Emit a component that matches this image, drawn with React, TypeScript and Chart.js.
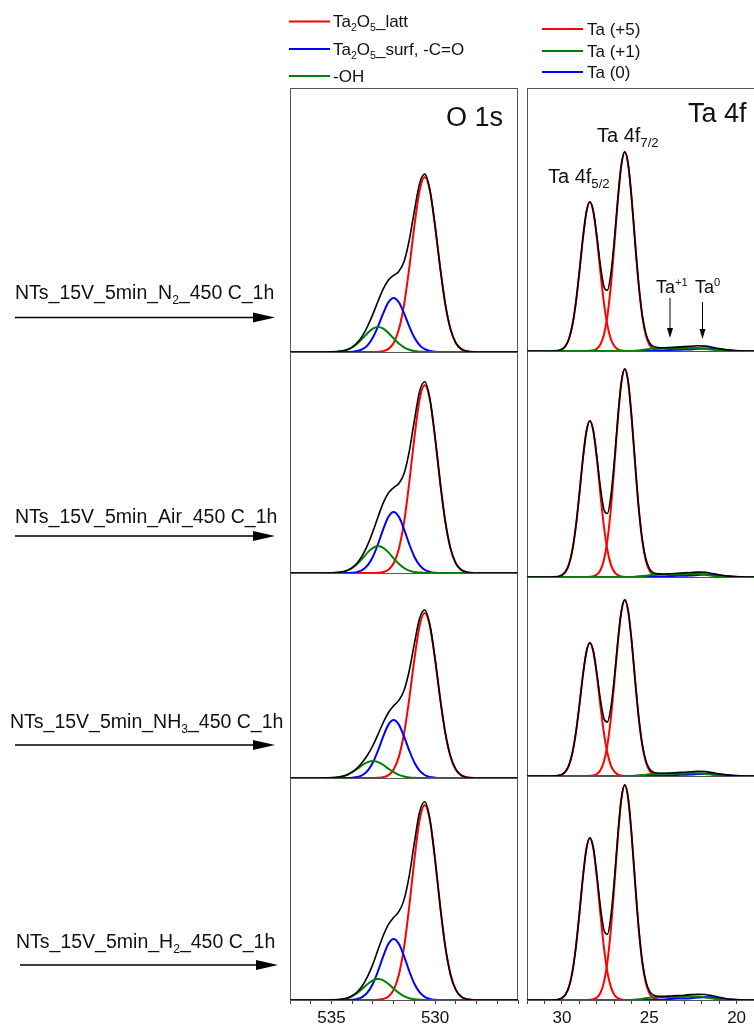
import React, { useEffect, useRef } from 'react';
import { Chart, registerables } from 'chart.js';

Chart.register(...registerables);

const FONT = '"Liberation Sans", Arial, Helvetica, sans-serif';

// ---------------- O 1s (binding energy, eV) ----------------
const O1S_E = [537, 535.5, 535.25, 535, 534.75, 534.5, 534.25, 534, 533.75, 533.5, 533.25, 533, 532.75, 532.5, 532.25, 532, 531.75, 531.5, 531.25, 531, 530.75, 530.5, 530.25, 530, 529.75, 529.5, 529.25, 529, 528.75, 528.5, 528.25, 528, 526];

const O1S_N2_ENV = [0, 0, 0, 0.1, 0.3, 0.9, 2.2, 4.9, 9.5, 16.4, 26.0, 37.9, 51.0, 63.1, 71.9, 76.6, 80.6, 90.3, 111.5, 141.2, 168.4, 177.9, 162.2, 126.1, 83.5, 46.9, 22.4, 9.0, 3.1, 0.9, 0.2, 0, 0];
const O1S_N2_LATT = [0, 0, 0, 0, 0, 0, 0, 0, 0, 0, 0, 0, 0.2, 0.9, 3.1, 9.0, 22.4, 46.9, 83.5, 125.8, 161.2, 175, 161.2, 125.8, 83.5, 46.9, 22.4, 9.0, 3.1, 0.9, 0.2, 0, 0];
const O1S_N2_SURF = [0, 0, 0, 0, 0, 0, 0, 0.3, 1.0, 2.8, 6.9, 14.5, 25.8, 38.8, 49.7, 54, 49.7, 38.8, 25.8, 14.5, 6.9, 2.8, 1.0, 0.3, 0, 0, 0, 0, 0, 0, 0, 0, 0];
const O1S_N2_OH = [0, 0, 0, 0.1, 0.3, 0.9, 2.2, 4.6, 8.5, 13.6, 19.1, 23.4, 25, 23.4, 19.1, 13.6, 8.5, 4.6, 2.2, 0.9, 0.3, 0.1, 0, 0, 0, 0, 0, 0, 0, 0, 0, 0, 0];

const O1S_AIR_ENV = [0, 0, 0, 0.1, 0.4, 1.0, 2.4, 5.3, 10.3, 17.8, 28.4, 41.5, 56.3, 70.1, 80.1, 85.4, 89.5, 99.3, 121.2, 152.5, 181.3, 191.2, 174.2, 135.5, 89.7, 50.4, 24.1, 9.7, 3.3, 1.0, 0.2, 0, 0];
const O1S_AIR_LATT = [0, 0, 0, 0, 0, 0, 0, 0, 0, 0, 0, 0, 0.2, 1.0, 3.3, 9.7, 24.1, 50.4, 89.7, 135.2, 173.1, 188, 173.1, 135.2, 89.7, 50.4, 24.1, 9.7, 3.3, 1.0, 0.2, 0, 0];
const O1S_AIR_SURF = [0, 0, 0, 0, 0, 0, 0, 0.3, 1.1, 3.1, 7.8, 16.3, 29.1, 43.9, 56.2, 61, 56.2, 43.9, 29.1, 16.3, 7.8, 3.1, 1.1, 0.3, 0, 0, 0, 0, 0, 0, 0, 0, 0];
const O1S_AIR_OH = [0, 0, 0, 0.1, 0.4, 1.0, 2.4, 5.0, 9.2, 14.7, 20.6, 25.2, 27, 25.2, 20.6, 14.7, 9.2, 5.0, 2.4, 1.0, 0.4, 0.1, 0, 0, 0, 0, 0, 0, 0, 0, 0, 0, 0];

const O1S_NH3_ENV = [0, 0, 0.1, 0.2, 0.6, 1.5, 3.1, 6.1, 10.2, 16.0, 23.3, 32.5, 43.8, 55.5, 65.5, 72.3, 77.6, 87.4, 107.0, 134.3, 159.5, 168.0, 153.0, 118.9, 78.7, 44.2, 21.1, 8.5, 2.9, 0.8, 0.2, 0, 0];
const O1S_NH3_LATT = [0, 0, 0, 0, 0, 0, 0, 0, 0, 0, 0, 0, 0.2, 0.8, 2.9, 8.5, 21.1, 44.2, 78.7, 118.6, 152.0, 165, 152.0, 118.6, 78.7, 44.2, 21.1, 8.5, 2.9, 0.8, 0.2, 0, 0];
const O1S_NH3_SURF = [0, 0, 0, 0, 0, 0, 0, 0.3, 1.0, 3.0, 7.4, 15.5, 27.7, 41.7, 53.4, 58, 53.4, 41.7, 27.7, 15.5, 7.4, 3.0, 1.0, 0.3, 0, 0, 0, 0, 0, 0, 0, 0, 0];
const O1S_NH3_OH = [0, 0, 0.1, 0.2, 0.6, 1.5, 3.1, 5.8, 9.2, 13.0, 15.9, 17, 15.9, 13.0, 9.2, 5.8, 3.1, 1.5, 0.6, 0.2, 0.1, 0, 0, 0, 0, 0, 0, 0, 0, 0, 0, 0, 0];

const O1S_H2_ENV = [0, 0, 0, 0.1, 0.3, 0.8, 1.8, 4.2, 8.2, 14.5, 23.8, 35.9, 50.4, 64.5, 75.7, 82.5, 88.3, 100.1, 123.9, 157.3, 187.7, 198.2, 180.7, 140.5, 93.0, 52.3, 25.0, 10.1, 3.5, 1.0, 0.3, 0, 0];
const O1S_H2_LATT = [0, 0, 0, 0, 0, 0, 0, 0, 0, 0, 0, 0, 0.3, 1.0, 3.5, 10.1, 25.0, 52.3, 93.0, 140.2, 179.6, 195, 179.6, 140.2, 93.0, 52.3, 25.0, 10.1, 3.5, 1.0, 0.3, 0, 0];
const O1S_H2_SURF = [0, 0, 0, 0, 0, 0, 0, 0.3, 1.1, 3.1, 7.8, 16.3, 29.1, 43.9, 56.2, 61, 56.2, 43.9, 29.1, 16.3, 7.8, 3.1, 1.1, 0.3, 0, 0, 0, 0, 0, 0, 0, 0, 0];
const O1S_H2_OH = [0, 0, 0, 0.1, 0.3, 0.8, 1.8, 3.9, 7.1, 11.4, 16.0, 19.6, 21, 19.6, 16.0, 11.4, 7.1, 3.9, 1.8, 0.8, 0.3, 0.1, 0, 0, 0, 0, 0, 0, 0, 0, 0, 0, 0];

// ---------------- Ta 4f (binding energy, eV) ----------------
const TA_E = [32, 30.6, 30.4, 30.2, 30.0, 29.8, 29.6, 29.4, 29.2, 29.0, 28.8, 28.6, 28.4, 28.2, 28.0, 27.8, 27.6, 27.4, 27.2, 27.0, 26.8, 26.6, 26.4, 26.2, 26.0, 25.8, 25.6, 25.4, 25.2, 25.0, 24.8, 24.6, 24.4, 24.2, 23.8, 23.4, 23.0, 22.6, 22.2, 21.8, 21.4, 21.0, 20.6, 20.2, 19.8, 19.4, 17];
const TA_E_52 = [30.6, 30.4, 30.2, 30.0, 29.8, 29.6, 29.4, 29.2, 29.0, 28.8, 28.6, 28.4, 28.2, 28.0, 27.8, 27.6, 27.4, 27.2, 27.0, 26.8, 26.6, 26.4, 26.2];
const TA_E_72 = [28.6, 28.4, 28.2, 28.0, 27.8, 27.6, 27.4, 27.2, 27.0, 26.8, 26.6, 26.4, 26.2, 26.0, 25.8, 25.6, 25.4, 25.2, 25.0, 24.8, 24.6, 24.4, 24.2];
const TA_E_MIN = [32, 26.2, 25.8, 25.4, 25.0, 24.6, 24.2, 23.8, 23.4, 23.0, 22.6, 22.2, 21.8, 21.4, 21.0, 20.6, 20.2, 19.8, 19.4, 17];

const TA_N2_ENV = [0, 0, 0.1, 0.5, 1.7, 4.9, 12.0, 26.0, 48.7, 79.4, 112.7, 138.9, 149.2, 139.6, 115.0, 85.9, 64.8, 60.7, 77.1, 111.0, 152.2, 186.1, 199.1, 185.6, 150.7, 106.4, 65.8, 35.7, 17.7, 8.6, 4.8, 3.6, 3.3, 3.2, 3.5, 3.9, 4.4, 4.8, 5.2, 4.9, 3.8, 2.4, 1.2, 0.4, 0.1, 0, 0];
const TA_N2_52 = [0, 0.1, 0.5, 1.7, 4.9, 12.0, 26.0, 48.7, 79.4, 112.7, 138.9, 149, 138.9, 112.7, 79.4, 48.7, 26.0, 12.0, 4.9, 1.7, 0.5, 0.1, 0];
const TA_N2_72 = [0, 0.2, 0.7, 2.3, 6.5, 16.1, 34.7, 65.1, 106.1, 150.5, 185.6, 199, 185.6, 150.5, 106.1, 65.1, 34.7, 16.1, 6.5, 2.3, 0.7, 0.2, 0];
const TA_N2_P1 = [0, 0, 0.3, 1.0, 2.0, 2.6, 2.6, 2.5, 2.6, 3.0, 3.2, 3.0, 2.3, 1.3, 0.5, 0.2, 0, 0, 0, 0];
const TA_N2_P0 = [0, 0, 0, 0, 0.1, 0.3, 0.6, 1.0, 1.3, 1.4, 1.6, 2.2, 2.6, 2.5, 1.9, 1.0, 0.4, 0.1, 0, 0];

const TA_AIR_ENV = [0, 0, 0.1, 0.5, 1.8, 5.1, 12.6, 27.2, 51.0, 83.2, 118.0, 145.5, 156.2, 146.2, 120.4, 90.0, 67.8, 63.5, 80.6, 116.0, 159.1, 194.5, 208.1, 194.0, 157.5, 111.2, 68.6, 37.2, 18.2, 8.7, 4.7, 3.4, 3.1, 3.0, 3.3, 3.7, 4.1, 4.5, 4.9, 4.6, 3.5, 2.2, 1.1, 0.4, 0.1, 0, 0];
const TA_AIR_52 = [0, 0.1, 0.5, 1.8, 5.1, 12.6, 27.2, 51.0, 83.2, 118.0, 145.5, 156, 145.5, 118.0, 83.2, 51.0, 27.2, 12.6, 5.1, 1.8, 0.5, 0.1, 0];
const TA_AIR_72 = [0, 0.2, 0.7, 2.4, 6.8, 16.8, 36.3, 68.0, 110.9, 157.3, 194.0, 208, 194.0, 157.3, 110.9, 68.0, 36.3, 16.8, 6.8, 2.4, 0.7, 0.2, 0];
const TA_AIR_P1 = [0, 0, 0.3, 0.9, 1.8, 2.4, 2.5, 2.4, 2.5, 2.8, 3.0, 2.9, 2.2, 1.2, 0.5, 0.2, 0, 0, 0, 0];
const TA_AIR_P0 = [0, 0, 0, 0, 0.1, 0.3, 0.5, 0.9, 1.2, 1.3, 1.5, 2.0, 2.4, 2.3, 1.7, 0.9, 0.4, 0.1, 0, 0];

const TA_NH3_ENV = [0, 0, 0.1, 0.5, 1.5, 4.3, 10.7, 23.2, 43.5, 70.9, 100.6, 124.0, 133.2, 124.6, 102.6, 76.6, 57.7, 53.9, 68.3, 98.1, 134.6, 164.6, 176.1, 164.1, 133.3, 94.1, 58.2, 31.6, 15.6, 7.5, 4.1, 3.0, 2.8, 2.7, 3.0, 3.4, 3.8, 4.2, 4.6, 4.4, 3.4, 2.1, 1.1, 0.4, 0.1, 0, 0];
const TA_NH3_52 = [0, 0.1, 0.5, 1.5, 4.3, 10.7, 23.2, 43.5, 70.9, 100.6, 124.0, 133, 124.0, 100.6, 70.9, 43.5, 23.2, 10.7, 4.3, 1.5, 0.5, 0.1, 0];
const TA_NH3_72 = [0, 0.2, 0.6, 2.0, 5.7, 14.2, 30.7, 57.6, 93.8, 133.1, 164.1, 176, 164.1, 133.1, 93.8, 57.6, 30.7, 14.2, 5.7, 2.0, 0.6, 0.2, 0];
const TA_NH3_P1 = [0, 0, 0.3, 0.9, 1.7, 2.2, 2.3, 2.2, 2.3, 2.6, 2.8, 2.7, 2.1, 1.2, 0.5, 0.2, 0, 0, 0, 0];
const TA_NH3_P0 = [0, 0, 0, 0, 0.1, 0.2, 0.4, 0.8, 1.1, 1.2, 1.4, 1.9, 2.3, 2.2, 1.6, 0.9, 0.4, 0.1, 0, 0];

const TA_H2_ENV = [0, 0, 0.1, 0.6, 1.9, 5.3, 13.1, 28.2, 53.0, 86.4, 122.5, 151.1, 162.2, 151.9, 125.0, 93.4, 70.4, 65.7, 83.4, 119.9, 164.5, 201.1, 215.1, 200.5, 162.8, 115.0, 71.1, 38.6, 19.1, 9.3, 5.3, 4.0, 3.6, 3.6, 4.0, 4.4, 4.8, 5.4, 5.8, 5.5, 4.3, 2.7, 1.3, 0.5, 0.1, 0, 0];
const TA_H2_52 = [0, 0.1, 0.6, 1.9, 5.3, 13.1, 28.2, 53.0, 86.4, 122.5, 151.1, 162, 151.1, 122.5, 86.4, 53.0, 28.2, 13.1, 5.3, 1.9, 0.6, 0.1, 0];
const TA_H2_72 = [0, 0.2, 0.8, 2.5, 7.0, 17.4, 37.5, 70.3, 114.6, 162.6, 200.5, 215, 200.5, 162.6, 114.6, 70.3, 37.5, 17.4, 7.0, 2.5, 0.8, 0.2, 0];
const TA_H2_P1 = [0, 0, 0.4, 1.1, 2.2, 2.9, 3.0, 2.9, 3.0, 3.3, 3.6, 3.4, 2.6, 1.5, 0.6, 0.2, 0, 0, 0, 0];
const TA_H2_P0 = [0, 0, 0, 0, 0.1, 0.3, 0.6, 1.1, 1.4, 1.5, 1.8, 2.4, 2.9, 2.8, 2.1, 1.1, 0.5, 0.1, 0, 0];

// row intensity ranges (top row first)
const ROW_IDS = ['yN2', 'yAir', 'yNH3', 'yH2'];
const O1S_ROW_MAX = [264, 221, 205, 222];
const TA_ROW_MAX = [263, 226, 199, 224];

// sample labels: [before subscript, subscript, after subscript]
const SAMPLE_LABELS = [
  ['NTs_15V_5min_N', '2', '_450 C_1h'],
  ['NTs_15V_5min_Air_450 C_1h', '', ''],
  ['NTs_15V_5min_NH', '3', '_450 C_1h'],
  ['NTs_15V_5min_H', '2', '_450 C_1h'],
];

const RED = '#ff0000';
const BLUE = '#0000ff';
const GREEN = '#008000';

function line(xs: number[], ys: number[], color: string, width: number, yAxisID: string, order: number) {
  return {
    data: xs.map((x, i) => ({ x, y: ys[i] })),
    borderColor: color,
    backgroundColor: color,
    borderWidth: width,
    pointRadius: 0,
    pointHoverRadius: 0,
    cubicInterpolationMode: 'monotone',
    fill: false,
    yAxisID,
    order,
  };
}

function rowAxis(max: number, rank: number) {
  return {
    type: 'linear',
    position: 'left',
    stack: 'rows',
    stackWeight: max,
    weight: rank,
    min: 0,
    max,
    display: true,
    ticks: { display: false },
    border: { display: false },
    grid: { drawTicks: false, color: '#555', lineWidth: 1 },
    afterBuildTicks: (s: any) => { s.ticks = [{ value: 0 }]; },
    afterFit: (s: any) => { s.width = 0; },
  };
}

function xAxis(min: number, max: number) {
  return {
    type: 'linear',
    position: 'bottom',
    min,
    max,
    reverse: true,
    ticks: {
      stepSize: 1,
      autoSkip: false,
      maxRotation: 0,
      color: '#111',
      padding: 4,
      font: { family: FONT, size: 17 },
      callback: (v: any) => (Number(v) % 5 === 0 ? String(v) : ''),
    },
    grid: { drawOnChartArea: false, drawTicks: true, tickLength: 4, color: '#444' },
    border: { display: true, color: '#444' },
    afterFit: (s: any) => { s.height = 28; },
  };
}

const framePlugin = {
  id: 'frame',
  beforeDatasetsDraw(chart: any) {
    const { ctx, chartArea: a } = chart;
    ctx.save();
    ctx.strokeStyle = '#555';
    ctx.lineWidth = 1;
    ctx.strokeRect(a.left + 0.5, a.top + 0.5, a.right - a.left - 1, a.bottom - a.top);
    ctx.restore();
  },
};

function buildConfig(datasets: any[], maxes: number[], xmin: number, xmax: number) {
  const scales: any = { x: xAxis(xmin, xmax) };
  ROW_IDS.forEach((id, i) => { scales[id] = rowAxis(maxes[i], ROW_IDS.length - i); });
  return {
    type: 'line',
    data: { datasets },
    options: {
      responsive: false,
      animation: false,
      events: [],
      layout: { autoPadding: false, padding: { left: 0, right: 0, top: 1, bottom: 0 } },
      plugins: { legend: { display: false }, tooltip: { enabled: false } },
      scales,
    },
    plugins: [framePlugin],
  };
}

function o1sConfig() {
  const rows = [
    [O1S_N2_ENV, O1S_N2_LATT, O1S_N2_SURF, O1S_N2_OH],
    [O1S_AIR_ENV, O1S_AIR_LATT, O1S_AIR_SURF, O1S_AIR_OH],
    [O1S_NH3_ENV, O1S_NH3_LATT, O1S_NH3_SURF, O1S_NH3_OH],
    [O1S_H2_ENV, O1S_H2_LATT, O1S_H2_SURF, O1S_H2_OH],
  ];
  const ds: any[] = [];
  rows.forEach((r, i) => {
    const id = ROW_IDS[i];
    ds.push(line(O1S_E, r[0], '#000', 1.6, id, 0));
    ds.push(line(O1S_E, r[3], GREEN, 2, id, 1));
    ds.push(line(O1S_E, r[2], BLUE, 2, id, 2));
    ds.push(line(O1S_E, r[1], RED, 2, id, 3));
  });
  return buildConfig(ds, O1S_ROW_MAX, 526, 537);
}

function taConfig() {
  const rows = [
    [TA_N2_ENV, TA_N2_52, TA_N2_72, TA_N2_P1, TA_N2_P0],
    [TA_AIR_ENV, TA_AIR_52, TA_AIR_72, TA_AIR_P1, TA_AIR_P0],
    [TA_NH3_ENV, TA_NH3_52, TA_NH3_72, TA_NH3_P1, TA_NH3_P0],
    [TA_H2_ENV, TA_H2_52, TA_H2_72, TA_H2_P1, TA_H2_P0],
  ];
  const ds: any[] = [];
  rows.forEach((r, i) => {
    const id = ROW_IDS[i];
    ds.push(line(TA_E, r[0], '#000', 1.6, id, 0));
    ds.push(line(TA_E_MIN, r[3], GREEN, 2, id, 1));
    ds.push(line(TA_E_MIN, r[4], BLUE, 2, id, 2));
    ds.push(line(TA_E_52, r[1], RED, 2, id, 3));
    ds.push(line(TA_E_72, r[2], RED, 2, id, 3));
  });
  return buildConfig(ds, TA_ROW_MAX, 17, 32);
}

function ChartCanvas({ make, left, top, width, height }: any) {
  const ref = useRef<HTMLCanvasElement>(null);
  useEffect(() => {
    const chart = new Chart(ref.current as HTMLCanvasElement, make());
    return () => chart.destroy();
  }, []);
  return (
    <canvas
      ref={ref}
      width={width}
      height={height}
      style={{ position: 'absolute', left, top, width, height }}
    />
  );
}

const Sub = ({ children, size = 0.62 }: any) => (
  <span style={{ fontSize: `${size}em`, position: 'relative', top: '0.38em' }}>{children}</span>
);
const Sup = ({ children }: any) => (
  <span style={{ fontSize: '0.62em', position: 'relative', top: '-0.62em' }}>{children}</span>
);

function Txt({ x, y, size, children }: any) {
  return (
    <div
      style={{
        position: 'absolute',
        left: x,
        top: y - 0.8465 * size,
        fontSize: size,
        lineHeight: `${size}px`,
        whiteSpace: 'nowrap',
        fontFamily: FONT,
        color: '#111',
      }}
    >
      {children}
    </div>
  );
}

const LABEL_POS = [
  { x: 15, y: 300, ay: 317.5, ax1: 15, ax2: 275 },
  { x: 15, y: 524, ay: 536, ax1: 15, ax2: 275 },
  { x: 10, y: 729, ay: 745, ax1: 15, ax2: 275 },
  { x: 16, y: 949, ay: 965, ax1: 20, ax2: 278 },
];

export default function App() {
  return (
    <div
      style={{
        position: 'absolute',
        left: 0,
        top: 0,
        width: 754,
        height: 1028,
        overflow: 'hidden',
        background: '#fff',
        fontFamily: FONT,
      }}
    >
      <ChartCanvas make={o1sConfig} left={286} top={87} width={236} height={941} />
      <ChartCanvas make={taConfig} left={523} top={87} width={270} height={941} />

      <svg width={754} height={1028} style={{ position: 'absolute', left: 0, top: 0 }}>
        {/* legend samples */}
        <line x1={289} y1={21.5} x2={330} y2={21.5} stroke={RED} strokeWidth={2} />
        <line x1={289} y1={49} x2={330} y2={49} stroke={BLUE} strokeWidth={2} />
        <line x1={289} y1={76} x2={330} y2={76} stroke={GREEN} strokeWidth={2} />
        <line x1={542} y1={29} x2={583} y2={29} stroke={RED} strokeWidth={2} />
        <line x1={542} y1={51} x2={583} y2={51} stroke={GREEN} strokeWidth={2} />
        <line x1={542} y1={72} x2={583} y2={72} stroke={BLUE} strokeWidth={2} />
        {/* sample arrows */}
        {LABEL_POS.map((p, i) => (
          <g key={i}>
            <line x1={p.ax1} y1={p.ay} x2={p.ax2 - 18} y2={p.ay} stroke="#000" strokeWidth={1.5} />
            <polygon points={`${p.ax2 - 22},${p.ay - 5} ${p.ax2},${p.ay} ${p.ax2 - 22},${p.ay + 5}`} fill="#000" />
          </g>
        ))}
        {/* Ta+1 / Ta0 arrows */}
        <line x1={670} y1={298} x2={670} y2={330} stroke="#000" strokeWidth={1} />
        <polygon points="667,328 673,328 670,338" fill="#000" />
        <line x1={702.5} y1={302} x2={702.5} y2={331} stroke="#000" strokeWidth={1} />
        <polygon points="699.5,329 705.5,329 702.5,339" fill="#000" />
      </svg>

      {/* legends */}
      <Txt x={333} y={27.5} size={17}>Ta<Sub>2</Sub>O<Sub>5</Sub>_latt</Txt>
      <Txt x={333} y={55} size={17}>Ta<Sub>2</Sub>O<Sub>5</Sub>_surf, -C=O</Txt>
      <Txt x={333} y={82} size={17}>-OH</Txt>
      <Txt x={587} y={35} size={17}>Ta (+5)</Txt>
      <Txt x={587} y={57} size={17}>Ta (+1)</Txt>
      <Txt x={587} y={78} size={17}>Ta (0)</Txt>

      {/* panel titles */}
      <Txt x={446} y={127} size={27}>O 1s</Txt>
      <Txt x={688} y={123} size={27}>Ta 4f</Txt>

      {/* peak annotations */}
      <Txt x={597} y={141.5} size={20}>Ta 4f<Sub size={0.66}>7/2</Sub></Txt>
      <Txt x={548} y={183} size={20}>Ta 4f<Sub size={0.66}>5/2</Sub></Txt>
      <Txt x={656} y={293} size={18}>Ta<Sup>+1</Sup></Txt>
      <Txt x={695} y={293} size={18}>Ta<Sup>0</Sup></Txt>

      {/* sample labels */}
      {SAMPLE_LABELS.map((l, i) => (
        <Txt key={i} x={LABEL_POS[i].x} y={LABEL_POS[i].y} size={19.5}>
          {l[0]}
          {l[1] ? <Sub>{l[1]}</Sub> : null}
          {l[2]}
        </Txt>
      ))}
    </div>
  );
}
